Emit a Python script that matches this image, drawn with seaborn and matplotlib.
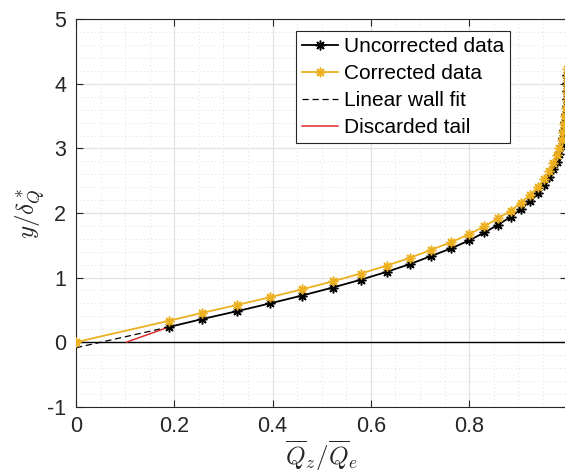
import matplotlib
matplotlib.use("Agg")
import matplotlib.pyplot as plt
import seaborn as sns
import numpy as np
from matplotlib.ticker import MultipleLocator

# ---- data ----
x_uncorr = [0.189, 0.256, 0.327, 0.395, 0.460, 0.522, 0.579, 0.632, 0.680, 0.722,
            0.764, 0.800, 0.831, 0.859, 0.885, 0.905, 0.924, 0.940, 0.952, 0.963,
            0.971, 0.978, 0.983, 0.988, 0.991, 0.9935, 0.9955, 0.997, 0.998, 0.9988,
            0.9994, 0.9998, 1.0]
y_uncorr = [0.234, 0.356, 0.478, 0.600, 0.722, 0.844, 0.966, 1.088, 1.210, 1.332,
            1.454, 1.576, 1.698, 1.820, 1.942, 2.064, 2.186, 2.308, 2.430, 2.552,
            2.674, 2.796, 2.918, 3.040, 3.162, 3.284, 3.406, 3.528, 3.650, 3.772,
            3.894, 4.016, 4.138]
x_corr = [0.0, 0.189, 0.256, 0.327, 0.395, 0.460, 0.522, 0.579, 0.632, 0.680, 0.722,
          0.764, 0.800, 0.831, 0.859, 0.885, 0.905, 0.924, 0.940, 0.952, 0.963,
          0.971, 0.978, 0.983, 0.988, 0.991, 0.9935, 0.9955, 0.997, 0.998, 0.9988,
          0.9994, 0.9998, 1.0]
y_corr = [0.0, 0.330, 0.452, 0.574, 0.696, 0.818, 0.940, 1.062, 1.184, 1.306, 1.428,
          1.550, 1.672, 1.794, 1.916, 2.038, 2.160, 2.282, 2.404, 2.526, 2.648,
          2.770, 2.892, 3.014, 3.136, 3.258, 3.380, 3.502, 3.624, 3.746, 3.868,
          3.990, 4.112, 4.234]
x_fit = [0.0, 0.189]
y_fit = [-0.087, 0.234]
x_tail = [0.103, 0.189]
y_tail = [0.0, 0.234]

labels = ["Uncorrected data", "Corrected data", "Linear wall fit", "Discarded tail"]
xticks = [0, 0.2, 0.4, 0.6, 0.8, 1]
xticklabels = ["0", "0.2", "0.4", "0.6", "0.8", ""]  # "1" falls outside the cropped figure
yticks = [-1, 0, 1, 2, 3, 4, 5]
yticklabels = ["-1", "0", "1", "2", "3", "4", "5"]

plt.rcParams['font.family'] = ['Liberation Sans', 'DejaVu Sans']
plt.rcParams['mathtext.fontset'] = 'cm'
plt.rcParams['axes.unicode_minus'] = False

fig = plt.figure(figsize=(5.65, 4.74), dpi=100)
ax = fig.add_axes([0.1345, 0.142, 0.8699, 0.8173])

axc = '#262626'
orange = '#EDB120'
red = '#D9302C'

ax.axhline(0, color='black', lw=1.0, zorder=2)

sns.lineplot(x=x_uncorr, y=y_uncorr, sort=False, estimator=None, ax=ax,
             color='black', lw=1.3, marker=(8, 2, 0), markersize=7,
             markeredgecolor='black', mew=1.1, label=labels[0], zorder=4)
sns.lineplot(x=x_corr, y=y_corr, sort=False, estimator=None, ax=ax,
             color=orange, lw=1.3, marker=(8, 2, 0), markersize=7,
             markeredgecolor=orange, mew=1.1, label=labels[1], zorder=5)
sns.lineplot(x=x_fit, y=y_fit, sort=False, estimator=None, ax=ax,
             color='black', lw=0.9, linestyle=(0, (5, 3)), label=labels[2], zorder=3)
sns.lineplot(x=x_tail, y=y_tail, sort=False, estimator=None, ax=ax,
             color=red, lw=1.1, label=labels[3], zorder=3)

ax.set_xlim(0, 1)
ax.set_ylim(-1, 5)
ax.set_xticks(xticks)
ax.set_xticklabels(xticklabels)
ax.set_yticks(yticks)
ax.set_yticklabels(yticklabels)
ax.xaxis.set_minor_locator(MultipleLocator(0.05))
ax.yaxis.set_minor_locator(MultipleLocator(0.2))

ax.grid(which='major', color='#e2e2e2', lw=0.9, ls='-', zorder=0)
ax.grid(which='minor', color='#d4d4d4', lw=0.6, ls=(0, (1, 3.5)), zorder=0)
ax.set_axisbelow(True)

ax.tick_params(which='major', direction='in', length=5, width=0.8, colors=axc,
               labelsize=15.5, top=True, right=True, pad=7)
ax.tick_params(which='minor', length=0, top=True, right=True)
for s in ax.spines.values():
    s.set_color(axc)
    s.set_linewidth(0.8)

ax.set_xlabel(r'$\overline{Q}_z/\overline{Q}_e$', fontsize=18, color=axc, labelpad=1)
ax.set_ylabel(r'$y/\delta^*_Q$', fontsize=18, color=axc, labelpad=0)

leg = ax.legend(loc='upper left', bbox_to_anchor=(0.447, 0.970), borderaxespad=0,
                fontsize=15, frameon=True, fancybox=False, edgecolor='#262626',
                framealpha=1, handlelength=1.75, handletextpad=0.25,
                labelspacing=0.38, borderpad=0.3)
leg.get_frame().set_linewidth(0.8)

fig.savefig('out.png', dpi=100)
